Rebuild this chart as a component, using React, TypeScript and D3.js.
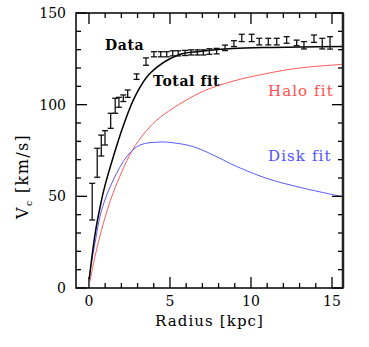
import React from "react";
import * as d3 from "d3";

// Observed rotation curve data
const dataR = [0.20, 0.51, 0.76, 0.99, 1.34, 1.62, 1.85, 2.12, 2.39, 2.94, 3.52, 4.01, 4.43, 4.80, 5.17, 5.51, 5.93, 6.30, 6.69, 7.06, 7.43, 7.88, 8.40, 8.95, 9.43, 10.04, 10.51, 11.07, 11.59, 12.20, 12.82, 13.27, 13.89, 14.40, 14.88];
const dataV = [47.1, 68.3, 77.7, 81.9, 91.2, 99.4, 101.3, 103.5, 106.0, 115.3, 123.5, 127.5, 127.5, 127.5, 128.0, 128.0, 128.2, 128.5, 128.5, 128.5, 129.0, 129.2, 131.0, 133.3, 136.4, 136.4, 134.4, 134.4, 134.4, 135.3, 133.7, 132.4, 136.0, 133.3, 133.7];
const dataErr = [10, 7.9, 5.7, 3.9, 4.1, 4.1, 2.7, 1.8, 2, 1.5, 2, 1.4, 1.4, 1.4, 1.4, 1.4, 1.4, 1.4, 1.4, 1.4, 1.5, 1.5, 1.5, 1.6, 2, 2, 1.8, 1.8, 1.8, 1.8, 1.5, 2, 2, 2.9, 3.4];

// Fit curves (sampled from the figure)
const totalR = [0.02, 0.37, 0.74, 0.99, 1.5, 2.12, 2.84, 3.77, 5.51, 6.85, 8.89, 10.99, 13.02, 15.68];
const totalV = [5, 29, 46.5, 56, 71.5, 88.5, 104.4, 117.1, 127.1, 129.0, 130.6, 131.2, 131.4, 131.7];
const haloR = [0.06, 0.37, 0.88, 1.5, 2.64, 3.56, 4.38, 6.85, 8.89, 10.97, 13.0, 15.68];
const haloV = [3.5, 17.1, 35.0, 52.0, 74.5, 85.9, 93.0, 106.5, 112.8, 117.0, 120.0, 122.0];
const diskR = [0.02, 0.37, 0.78, 1.5, 2.33, 3.15, 4.38, 5.0, 6.44, 8.09, 8.91, 10.97, 13.02, 15.66];
const diskV = [6.5, 24.4, 42.5, 58.9, 71.6, 78.0, 79.6, 79.4, 77.1, 70.7, 67.1, 59.8, 54.9, 49.8];

const xMajor = [0, 5, 10, 15];
const xMinor = [0, 1, 2, 3, 4, 5, 6, 7, 8, 9, 10, 11, 12, 13, 14, 15];
const yMajor = [0, 50, 100, 150];
const yMinor = [0, 10, 20, 30, 40, 50, 60, 70, 80, 90, 100, 110, 120, 130, 140, 150];

const W = 369, H = 347;
const L = 76, R = 343, T = 13, B = 288;

export default function App() {
  const x = d3.scaleLinear().domain([-0.8, 15.68]).range([L, R]);
  const y = d3.scaleLinear().domain([0, 150]).range([B, T]);
  const line = d3.line<[number, number]>().x(d => x(d[0])).y(d => y(d[1])).curve(d3.curveCatmullRom.alpha(0.5));
  const zip = (a: number[], b: number[]) => a.map((v, i) => [v, b[i]] as [number, number]);

  const font = "'DejaVu Serif', serif";
  const major = 11, minor = 5;
  const cap = 3;

  return (
    <svg width={W} height={H} style={{ position: "absolute", left: 0, top: 0, background: "#fff" }}>
      <defs>
        <clipPath id="plot"><rect x={L} y={T} width={R - L} height={B - T} /></clipPath>
      </defs>
      <g clipPath="url(#plot)">
        <path d={line(zip(haloR, haloV)) || ""} fill="none" stroke="#ff5a5a" strokeWidth={1} />
        <path d={line(zip(diskR, diskV)) || ""} fill="none" stroke="#5a5aff" strokeWidth={1} />
        <path d={line(zip(totalR, totalV)) || ""} fill="none" stroke="#000" strokeWidth={1.5} />
        {dataR.map((r, i) => {
          const cx = x(r), y1 = y(dataV[i] - dataErr[i]), y2 = y(dataV[i] + dataErr[i]);
          return (
            <g key={i} stroke="#111" strokeWidth={1.3}>
              <line x1={cx} x2={cx} y1={y1} y2={y2} />
              <line x1={cx - cap} x2={cx + cap} y1={y1} y2={y1} />
              <line x1={cx - cap} x2={cx + cap} y1={y2} y2={y2} />
            </g>
          );
        })}
      </g>
      {/* ticks */}
      <g stroke="#000" strokeWidth={1.3}>
        {xMinor.map(t => (
          <g key={"xm" + t}>
            <line x1={x(t)} x2={x(t)} y1={B} y2={B - (xMajor.includes(t) ? major : minor)} />
            <line x1={x(t)} x2={x(t)} y1={T} y2={T + (xMajor.includes(t) ? major : minor)} />
          </g>
        ))}
        {yMinor.map(t => (
          <g key={"ym" + t}>
            <line x1={L} x2={L + (yMajor.includes(t) ? major : minor)} y1={y(t)} y2={y(t)} />
            <line x1={R} x2={R - (yMajor.includes(t) ? major : minor)} y1={y(t)} y2={y(t)} />
          </g>
        ))}
      </g>
      <rect x={L} y={T} width={R - L} height={B - T} fill="none" stroke="#000" strokeWidth={1.5} />
      <line x1={R} x2={R} y1={T} y2={B} stroke="#222" strokeWidth={2.5} />
      {/* tick labels */}
      <g fontFamily={font} fontSize={14} fill="#000">
        {xMajor.map(t => (
          <text key={"xl" + t} x={x(t)} y={306} textAnchor="middle">{t}</text>
        ))}
        {yMajor.map(t => (
          <text key={"yl" + t} x={66} y={y(t) + 5} textAnchor="end">{t}</text>
        ))}
      </g>
      <text x={(L + R) / 2} y={326} textAnchor="middle" fontFamily={font} fontSize={15} letterSpacing={1.1}>Radius [kpc]</text>
      <text transform="translate(28,219) rotate(-90)" fontFamily={font} fontSize={16} letterSpacing={1.4}>
        V<tspan fontSize={9} dy={4}>c</tspan><tspan dy={-4}> [km/s]</tspan>
      </text>
      <text x={105} y={50} fontFamily={font} fontSize={14} fontWeight="bold" letterSpacing={0.6}>Data</text>
      <text x={153} y={86} fontFamily={font} fontSize={14} fontWeight="bold" letterSpacing={0.6}>Total fit</text>
      <text x={268} y={96} fontFamily={font} fontSize={15} letterSpacing={1.1} fill="#ff5050">Halo fit</text>
      <text x={268} y={161} fontFamily={font} fontSize={15} letterSpacing={1.1} fill="#5050ff">Disk fit</text>
    </svg>
  );
}
